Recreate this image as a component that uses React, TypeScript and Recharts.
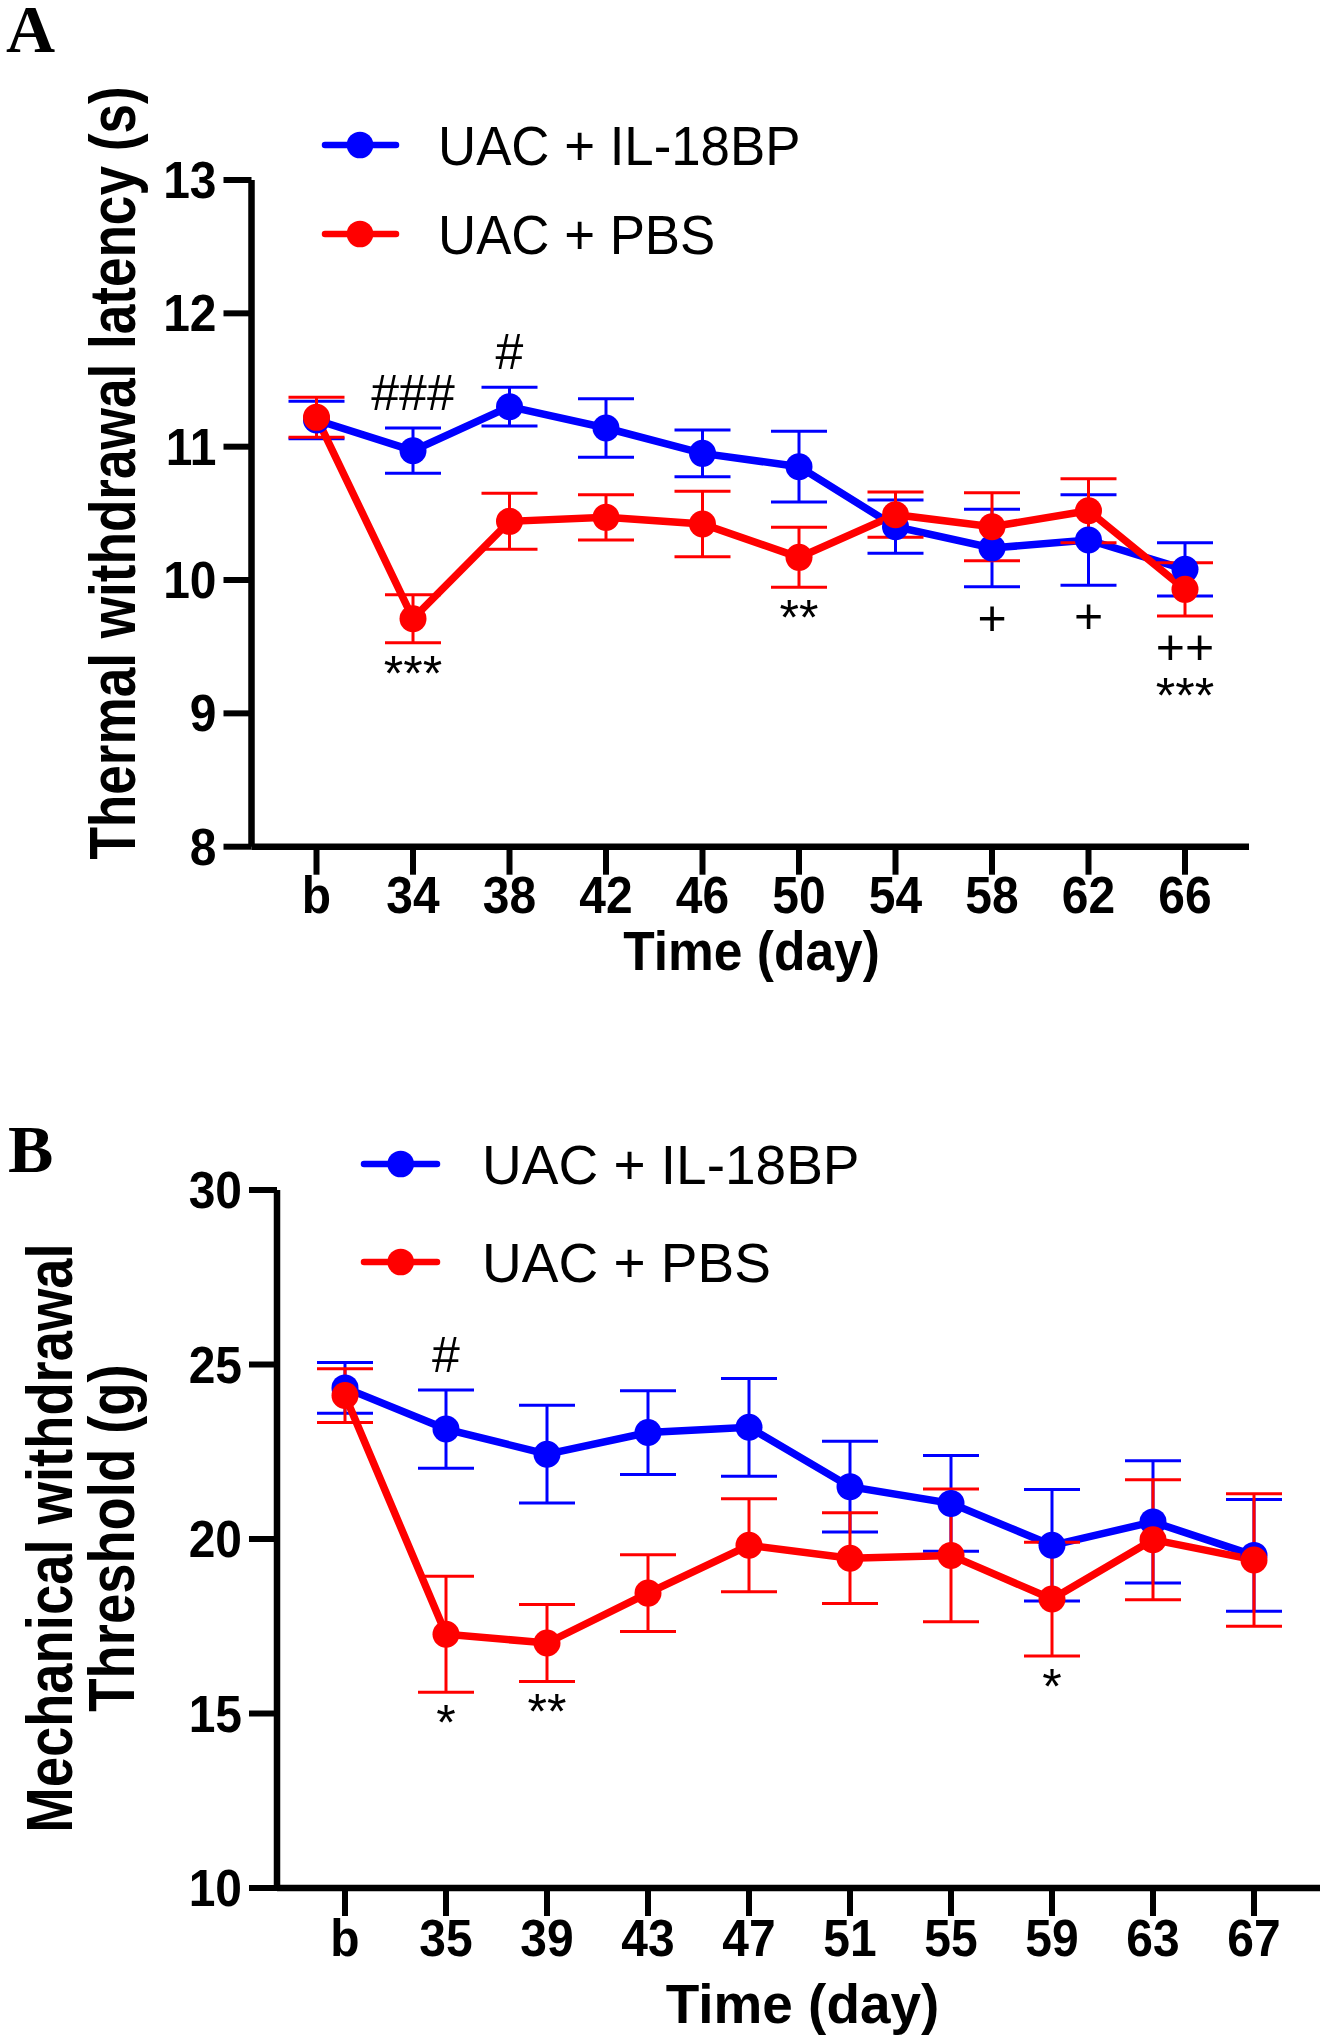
import React from 'react'
import { LineChart, Line, XAxis, YAxis, ErrorBar, Legend } from 'recharts'

const SANS = '"Liberation Sans", Arial, sans-serif'
const SERIF = '"Liberation Serif", "Times New Roman", serif'
const BLUE = '#0000ff'
const RED = '#ff0000'

const seriesNames = ['UAC + IL-18BP', 'UAC + PBS']

// Panel A: thermal withdrawal latency (s)
const daysA = ['b', '34', '38', '42', '46', '50', '54', '58', '62', '66']
const il18bpA = [11.2, 10.97, 11.3, 11.14, 10.95, 10.85, 10.4, 10.24, 10.3, 10.08]
const il18bpErrA = [0.14, 0.17, 0.145, 0.22, 0.175, 0.265, 0.2, 0.29, 0.34, 0.2]
const pbsA = [11.22, 9.71, 10.44, 10.47, 10.42, 10.17, 10.49, 10.4, 10.52, 9.93]
const pbsErrA = [0.15, 0.18, 0.21, 0.17, 0.245, 0.225, 0.17, 0.255, 0.24, 0.2]
const ticksA = [8, 9, 10, 11, 12, 13]
const aboveA = ['', '###', '#', '', '', '', '', '', '', '']
const belowA = [[], ['***'], [], [], [], ['**'], [], ['+'], ['+'], ['++', '***']]

// Panel B: mechanical withdrawal threshold (g)
const daysB = ['b', '35', '39', '43', '47', '51', '55', '59', '63', '67']
const il18bpB = [24.33, 23.15, 22.43, 23.05, 23.2, 21.5, 21.02, 19.82, 20.49, 19.53]
const il18bpErrB = [0.73, 1.12, 1.4, 1.2, 1.4, 1.3, 1.37, 1.6, 1.75, 1.6]
const pbsB = [24.11, 17.27, 17.02, 18.45, 19.82, 19.45, 19.53, 18.28, 19.98, 19.4]
const pbsErrB = [0.77, 1.66, 1.1, 1.1, 1.33, 1.3, 1.9, 1.63, 1.72, 1.9]
const ticksB = [10, 15, 20, 25, 30]
const aboveB = ['', '#', '', '', '', '', '', '', '', '']
const belowB = [[], ['*'], ['**'], [], [], [], [], ['*'], [], []]

type Row = { day: string; il: number; ilErr: number; pbs: number; pbsErr: number }

const buildRows = (days: string[], il: number[], ilErr: number[], pbs: number[], pbsErr: number[]): Row[] =>
  days.map((day, i) => ({ day, il: il[i], ilErr: ilErr[i], pbs: pbs[i], pbsErr: pbsErr[i] }))

const rowsA = buildRows(daysA, il18bpA, il18bpErrA, pbsA, pbsErrA)
const rowsB = buildRows(daysB, il18bpB, il18bpErrB, pbsB, pbsErrB)

// where the significance marks hang: above the highest error cap, below the lowest one
const upper = (r: Row) => Math.max(r.il + r.ilErr, r.pbs + r.pbsErr)
const lower = (r: Row) => Math.min(r.il - r.ilErr, r.pbs - r.pbsErr)

const markText = { fontFamily: SANS, fontSize: 50, fill: '#000' }

const aboveMark = (texts: string[]) => (p: any) => (
  <text key={`above-${p.index}`} x={p.cx} y={p.cy - 18} textAnchor="middle" {...markText}>
    {texts[p.index]}
  </text>
)

// stacked marks (e.g. "++" over "***") go in one text element, one tspan per line
const belowMark = (texts: string[][]) => (p: any) => (
  <text key={`below-${p.index}`} x={p.cx} y={p.cy + 48} textAnchor="middle" {...markText}>
    {texts[p.index].map((t, k) => (
      <tspan key={k} x={p.cx} dy={k === 0 ? 0 : 49}>
        {t}
      </tspan>
    ))}
  </text>
)

const tickText = { fontFamily: SANS, fontSize: 51, fontWeight: 700, fill: '#000' }

function XTick({ x, y, payload }: any) {
  return (
    <text transform={`translate(${x},${y}) scale(0.94,1)`} dy="0.71em" textAnchor="middle" {...tickText}>
      {payload.value}
    </text>
  )
}

function YTick({ x, y, payload }: any) {
  return (
    <text transform={`translate(${x},${y}) scale(0.94,1)`} dy="0.355em" textAnchor="end" {...tickText}>
      {payload.value}
    </text>
  )
}

interface LegendCfg {
  rows: number[]
  line: [number, number]
  dotX: number
  textX: number
  squeeze: number
}

function LegendBox({ payload, cfg }: { payload?: any[]; cfg: LegendCfg }) {
  return (
    <svg width={640} height={200} style={{ display: 'block', overflow: 'visible' }}>
      {(payload ?? []).map((item, i) => {
        const y = cfg.rows[i]
        return (
          <g key={item.value}>
            <line x1={cfg.line[0]} x2={cfg.line[1]} y1={y} y2={y} stroke={item.color} strokeWidth={6.5} strokeLinecap="round" />
            <circle cx={cfg.dotX} cy={y} r={13.3} fill={item.color} />
            <text transform={`translate(${cfg.textX},${y + 20}) scale(${cfg.squeeze},1)`} fontFamily={SANS} fontSize={55} fill="#000">
              {item.value}
            </text>
          </g>
        )
      })}
    </svg>
  )
}

interface PanelProps {
  rows: Row[]
  height: number
  top: number
  bottom: number
  right: number
  yWidth: number
  domain: [number, number]
  ticks: number[]
  pad: { left: number; right: number }
  xTickMargin: number
  above: string[]
  below: string[][]
  legendPos: { left: number; top: number }
  legend: LegendCfg
}

const AXIS_LINE = { stroke: '#000', strokeWidth: 6.5 }
const TICK_LINE = { stroke: '#000', strokeWidth: 6 }

function Panel(p: PanelProps) {
  return (
    <LineChart width={1328} height={p.height} data={p.rows} margin={{ top: p.top, right: p.right, bottom: 0, left: 0 }}>
      <XAxis
        dataKey="day"
        type="category"
        interval={0}
        padding={p.pad}
        height={p.height - p.bottom}
        axisLine={AXIS_LINE}
        tickLine={TICK_LINE}
        tickSize={28}
        tickMargin={p.xTickMargin}
        tick={(t: any) => <XTick {...t} />}
      />
      <YAxis
        type="number"
        domain={p.domain}
        ticks={p.ticks}
        interval={0}
        width={p.yWidth}
        axisLine={AXIS_LINE}
        tickLine={TICK_LINE}
        tickSize={28}
        tickMargin={7}
        tick={(t: any) => <YTick {...t} />}
      />
      <Legend
        layout="vertical"
        align="center"
        verticalAlign="middle"
        wrapperStyle={{ left: p.legendPos.left, top: p.legendPos.top, width: 640, height: 200 }}
        content={(lp: any) => <LegendBox payload={lp.payload} cfg={p.legend} />}
      />
      <Line
        dataKey="il"
        name={seriesNames[0]}
        stroke={BLUE}
        strokeWidth={7.5}
        dot={{ r: 13.5, fill: BLUE, stroke: 'none' }}
        activeDot={false}
        isAnimationActive={false}
      >
        <ErrorBar dataKey="ilErr" direction="y" width={28} stroke={BLUE} strokeWidth={3} />
      </Line>
      <Line
        dataKey="pbs"
        name={seriesNames[1]}
        stroke={RED}
        strokeWidth={7.5}
        dot={{ r: 13.5, fill: RED, stroke: 'none' }}
        activeDot={false}
        isAnimationActive={false}
      >
        <ErrorBar dataKey="pbsErr" direction="y" width={28} stroke={RED} strokeWidth={3} />
      </Line>
      <Line dataKey={upper} stroke="none" strokeWidth={0} legendType="none" dot={aboveMark(p.above)} activeDot={false} isAnimationActive={false} />
      <Line dataKey={lower} stroke="none" strokeWidth={0} legendType="none" dot={belowMark(p.below)} activeDot={false} isAnimationActive={false} />
    </LineChart>
  )
}

const titleText = { fontFamily: SANS, fontWeight: 700, fill: '#000' }

export default function App() {
  return (
    <div style={{ position: 'relative', width: 1328, height: 2040, background: '#fff', overflow: 'hidden' }}>
      <style>{'body{margin:0}'}</style>
      <div style={{ position: 'absolute', left: 0, top: 0 }}>
        <Panel
          rows={rowsA}
          height={1040}
          top={180}
          bottom={846.7}
          right={79}
          yWidth={251.5}
          domain={[8, 13]}
          ticks={ticksA}
          pad={{ left: 65, right: 64 }}
          xTickMargin={2}
          above={aboveA}
          below={belowA}
          legendPos={{ left: 300, top: 100 }}
          legend={{ rows: [45, 134], line: [25, 96], dotX: 60, textX: 138, squeeze: 0.96 }}
        />
      </div>
      <div style={{ position: 'absolute', left: 0, top: 1080 }}>
        <Panel
          rows={rowsB}
          height={960}
          top={110}
          bottom={808}
          right={8}
          yWidth={277}
          domain={[10, 30]}
          ticks={ticksB}
          pad={{ left: 68, right: 66 }}
          xTickMargin={4}
          above={aboveB}
          below={belowB}
          legendPos={{ left: 300, top: 40 }}
          legend={{ rows: [44, 142], line: [64, 137], dotX: 100.7, textX: 182, squeeze: 1 }}
        />
      </div>
      <svg width={1328} height={2040} style={{ position: 'absolute', left: 0, top: 0, pointerEvents: 'none' }}>
        <text x={6} y={52} fontFamily={SERIF} fontWeight={700} fontSize={68}>A</text>
        <text x={8} y={1172} fontFamily={SERIF} fontWeight={700} fontSize={68}>B</text>
        <text transform="translate(135,473) rotate(-90) scale(0.83,1)" textAnchor="middle" fontSize={64} {...titleText}>
          Thermal withdrawal latency (s)
        </text>
        <text transform="translate(72,1538) rotate(-90) scale(0.85,1)" textAnchor="middle" fontSize={64} {...titleText}>
          Mechanical withdrawal
        </text>
        <text transform="translate(134,1538) rotate(-90) scale(0.85,1)" textAnchor="middle" fontSize={64} {...titleText}>
          Threshold (g)
        </text>
        <text transform="translate(751.5,970) scale(0.92,1)" textAnchor="middle" fontSize={56} {...titleText}>
          Time (day)
        </text>
        <text transform="translate(802.5,2023) scale(0.98,1)" textAnchor="middle" fontSize={56} {...titleText}>
          Time (day)
        </text>
      </svg>
    </div>
  )
}
